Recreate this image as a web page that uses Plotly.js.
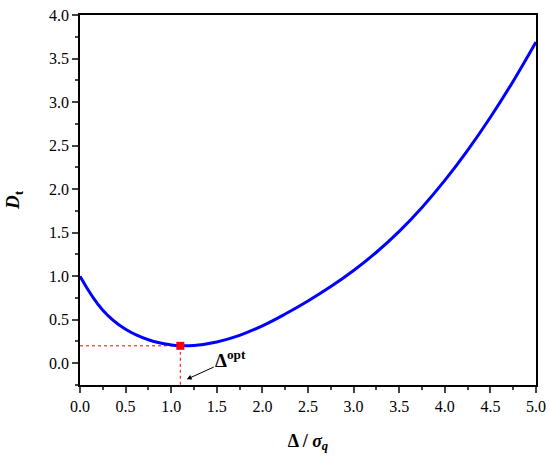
<!DOCTYPE html>
<html>
<head>
<meta charset="utf-8">
<script src="https://cdn.plot.ly/plotly-3.0.1.min.js"></script>
<style>
  body { margin: 0; background: #fff; }
  #plot { width: 550px; height: 459px; }
</style>
</head>
<body>
<div id="plot"></div>
<script>
// values
var ratio = [0, 0.25, 0.5, 0.75, 1.0, 1.1, 1.25, 1.5, 1.75, 2.0, 2.25, 2.5,
             2.75, 3.0, 3.25, 3.5, 3.75, 4.0, 4.25, 4.5, 4.75, 5.0];
var dt = [1.00, 0.61, 0.39, 0.27, 0.21, 0.20, 0.205, 0.245, 0.32, 0.43, 0.565, 0.715,
          0.88, 1.065, 1.275, 1.515, 1.79, 2.10, 2.445, 2.825, 3.24, 3.69];
var optX = [1.1];
var optY = [0.2];
var yMin = -0.25;

var serif = "Liberation Serif";

var curve = {
  x: ratio,
  y: dt,
  mode: "lines",
  line: {color: "rgb(0,0,255)", width: 3, shape: "spline", smoothing: 1.2},
  hoverinfo: "x+y"
};

// dotted guides from the optimum to both axes
var hLine = {
  x: [0, optX[0]],
  y: [optY[0], optY[0]],
  mode: "lines",
  line: {color: "red", width: 1, dash: "dot"}
};

var vLine = {
  x: [optX[0], optX[0]],
  y: [optY[0], yMin],
  mode: "lines",
  line: {color: "red", width: 1, dash: "dot"}
};

var optPoint = {
  x: optX,
  y: optY,
  mode: "markers",
  marker: {symbol: "square", color: "red", size: 8}
};

var data = [hLine, vLine, curve, optPoint];

var layout = {
  width: 550,
  height: 459,
  margin: {l: 80, r: 14, t: 15, b: 74},
  showlegend: false,
  plot_bgcolor: "#fff",
  paper_bgcolor: "#fff",
  font: {family: serif, size: 16, color: "#000"},
  xaxis: {
    range: [0, 5],
    dtick: 0.5,
    tickformat: ".1f",
    ticks: "outside",
    ticklen: 6,
    tickwidth: 1.5,
    minor: {ticks: "outside", ticklen: 3, dtick: 0.25, tickwidth: 1.5},
    showline: true,
    linewidth: 1.5,
    linecolor: "#000",
    mirror: true,
    showgrid: false,
    zeroline: false,
    title: {
      text: "<b>Δ / <i>σ</i><sub><i>q</i></sub></b>",
      font: {family: serif, size: 18},
      standoff: 20
    }
  },
  yaxis: {
    range: [yMin, 4.0],
    dtick: 0.5,
    tickformat: ".1f",
    ticks: "outside",
    ticklen: 6,
    tickwidth: 1.5,
    minor: {ticks: "outside", ticklen: 3, dtick: 0.25, tickwidth: 1.5},
    showline: true,
    linewidth: 1.5,
    linecolor: "#000",
    mirror: true,
    showgrid: false,
    zeroline: false,
    title: {
      text: "<b><i>D</i><sub>t</sub></b>",
      font: {family: serif, size: 19},
      standoff: 24
    }
  },
  annotations: [{
    x: 1.17,
    y: -0.185,
    xref: "x",
    yref: "y",
    ax: 44,
    ay: -20,
    text: "<b>Δ<sup>opt</sup></b>",
    font: {family: serif, size: 19},
    showarrow: true,
    arrowhead: 2,
    arrowsize: 1,
    arrowwidth: 1,
    arrowcolor: "#000"
  }]
};

Plotly.newPlot("plot", data, layout, {displayModeBar: false});
</script>
</body>
</html>
